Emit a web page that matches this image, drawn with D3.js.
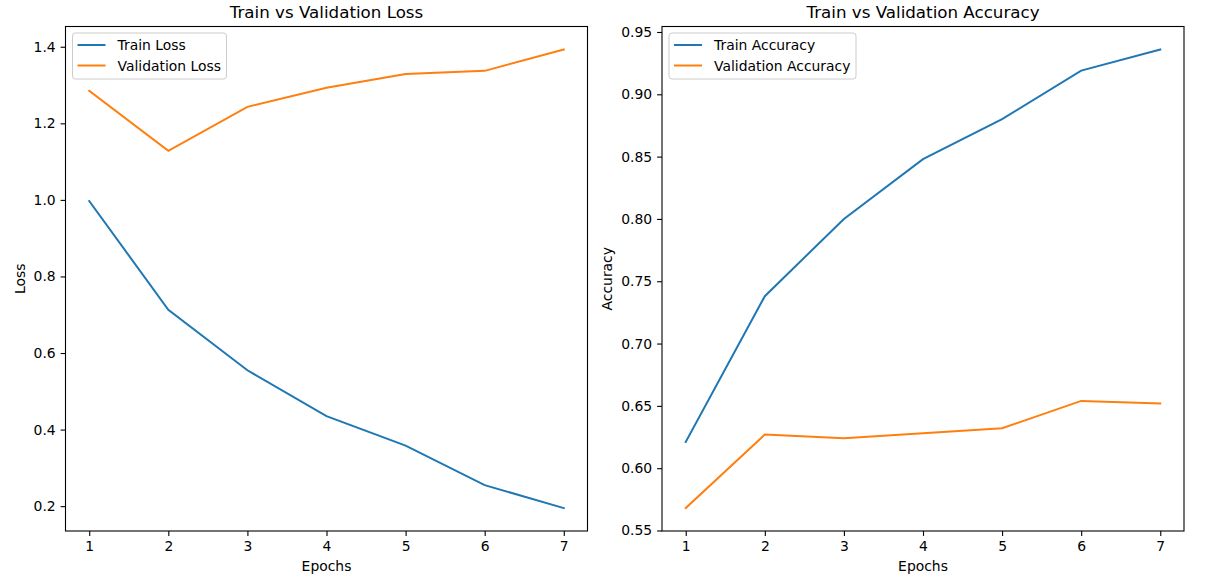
<html>
<head>
<script src="https://cdn.jsdelivr.net/npm/d3@7"></script>
<style>
  body { margin: 0; background: #fff; }
  text { font-family: "DejaVu Sans", sans-serif; fill: #000; }
</style>
</head>
<body>
<script>
var epochs = [1, 2, 3, 4, 5, 6, 7];
var trainLoss = [0.997, 0.713, 0.555, 0.435, 0.358, 0.255, 0.195];
var valLoss = [1.285, 1.128, 1.243, 1.293, 1.329, 1.337, 1.393];
var trainAcc = [0.621, 0.738, 0.800, 0.848, 0.880, 0.919, 0.936];
var valAcc = [0.568, 0.627, 0.624, 0.628, 0.632, 0.654, 0.652];
var lossTicks = [0.2, 0.4, 0.6, 0.8, 1.0, 1.2, 1.4];
var accTicks = [0.55, 0.60, 0.65, 0.70, 0.75, 0.80, 0.85, 0.90, 0.95];

var width = 1209, height = 587;
var svg = d3.select("body").append("svg")
    .attr("width", width).attr("height", height);

function panel(opt) {
    var left = opt.left, right = opt.right, top = 26.5, bottom = 531;
    var x = d3.scaleLinear().domain([0.7, 7.3]).range([left, right]);
    var all = opt.series[0].values.concat(opt.series[1].values);
    var lo = d3.min(all), hi = d3.max(all), pad = (hi - lo) * 0.05;
    var y = d3.scaleLinear().domain([lo - pad, hi + pad]).range([bottom, top]);

    var g = svg.append("g");

    var line = d3.line().x(function(d, i) { return x(epochs[i]); }).y(function(d) { return y(d); });
    opt.series.forEach(function(s) {
        g.append("path").datum(s.values)
            .attr("fill", "none").attr("stroke", s.color)
            .attr("stroke-width", 2).attr("stroke-linecap", "square")
            .attr("d", line);
    });

    var xa = g.append("g").attr("transform", "translate(0," + bottom + ")")
        .call(d3.axisBottom(x).tickValues(epochs).tickFormat(d3.format("d")).tickSize(4.9).tickPadding(4.9));
    var ya = g.append("g").attr("transform", "translate(" + left + ",0)")
        .call(d3.axisLeft(y).tickValues(opt.ticks).tickFormat(d3.format(opt.fmt)).tickSize(4.9).tickPadding(4.9));
    [xa, ya].forEach(function(a) {
        a.select(".domain").remove();
        a.selectAll("line").attr("stroke", "#000").attr("stroke-width", 1.1);
        a.selectAll("text").style("font-size", "13.9px").attr("font-family", "DejaVu Sans");
    });

    g.append("rect").attr("x", left).attr("y", top)
        .attr("width", right - left).attr("height", bottom - top)
        .attr("fill", "none").attr("stroke", "#000").attr("stroke-width", 1.1);

    g.append("text").attr("x", (left + right) / 2).attr("y", 18)
        .attr("text-anchor", "middle").style("font-size", "16.7px").text(opt.title);
    g.append("text").attr("x", (left + right) / 2).attr("y", 571)
        .attr("text-anchor", "middle").style("font-size", "13.9px").text("Epochs");
    g.append("text").attr("transform", "translate(" + opt.ylabX + "," + (top + bottom) / 2 + ") rotate(-90)")
        .attr("text-anchor", "middle").style("font-size", "13.9px").text(opt.ylabel);

    // legend
    var lg = g.append("g").attr("transform", "translate(" + (left + 7) + ",33)");
    lg.append("rect").attr("width", opt.legendW).attr("height", 46).attr("rx", 3)
        .attr("fill", "#fff").attr("fill-opacity", 0.8).attr("stroke", "#ccc").attr("stroke-width", 1);
    opt.series.forEach(function(s, i) {
        var yy = 12 + i * 20.5;
        lg.append("line").attr("x1", 5).attr("x2", 33).attr("y1", yy).attr("y2", yy)
            .attr("stroke", s.color).attr("stroke-width", 2);
        lg.append("text").attr("x", 45).attr("y", yy + 5).style("font-size", "13.9px").text(s.name);
    });
}

panel({
    left: 65.5, right: 587.5, title: "Train vs Validation Loss", ylabel: "Loss", ylabX: 25,
    ticks: lossTicks, fmt: ".1f", legendW: 154,
    series: [
        { name: "Train Loss", values: trainLoss, color: "#1f77b4" },
        { name: "Validation Loss", values: valLoss, color: "#ff7f0e" }
    ]
});

panel({
    left: 662, right: 1184, title: "Train vs Validation Accuracy", ylabel: "Accuracy", ylabX: 612,
    ticks: accTicks, fmt: ".2f", legendW: 187,
    series: [
        { name: "Train Accuracy", values: trainAcc, color: "#1f77b4" },
        { name: "Validation Accuracy", values: valAcc, color: "#ff7f0e" }
    ]
});
</script>
</body>
</html>
